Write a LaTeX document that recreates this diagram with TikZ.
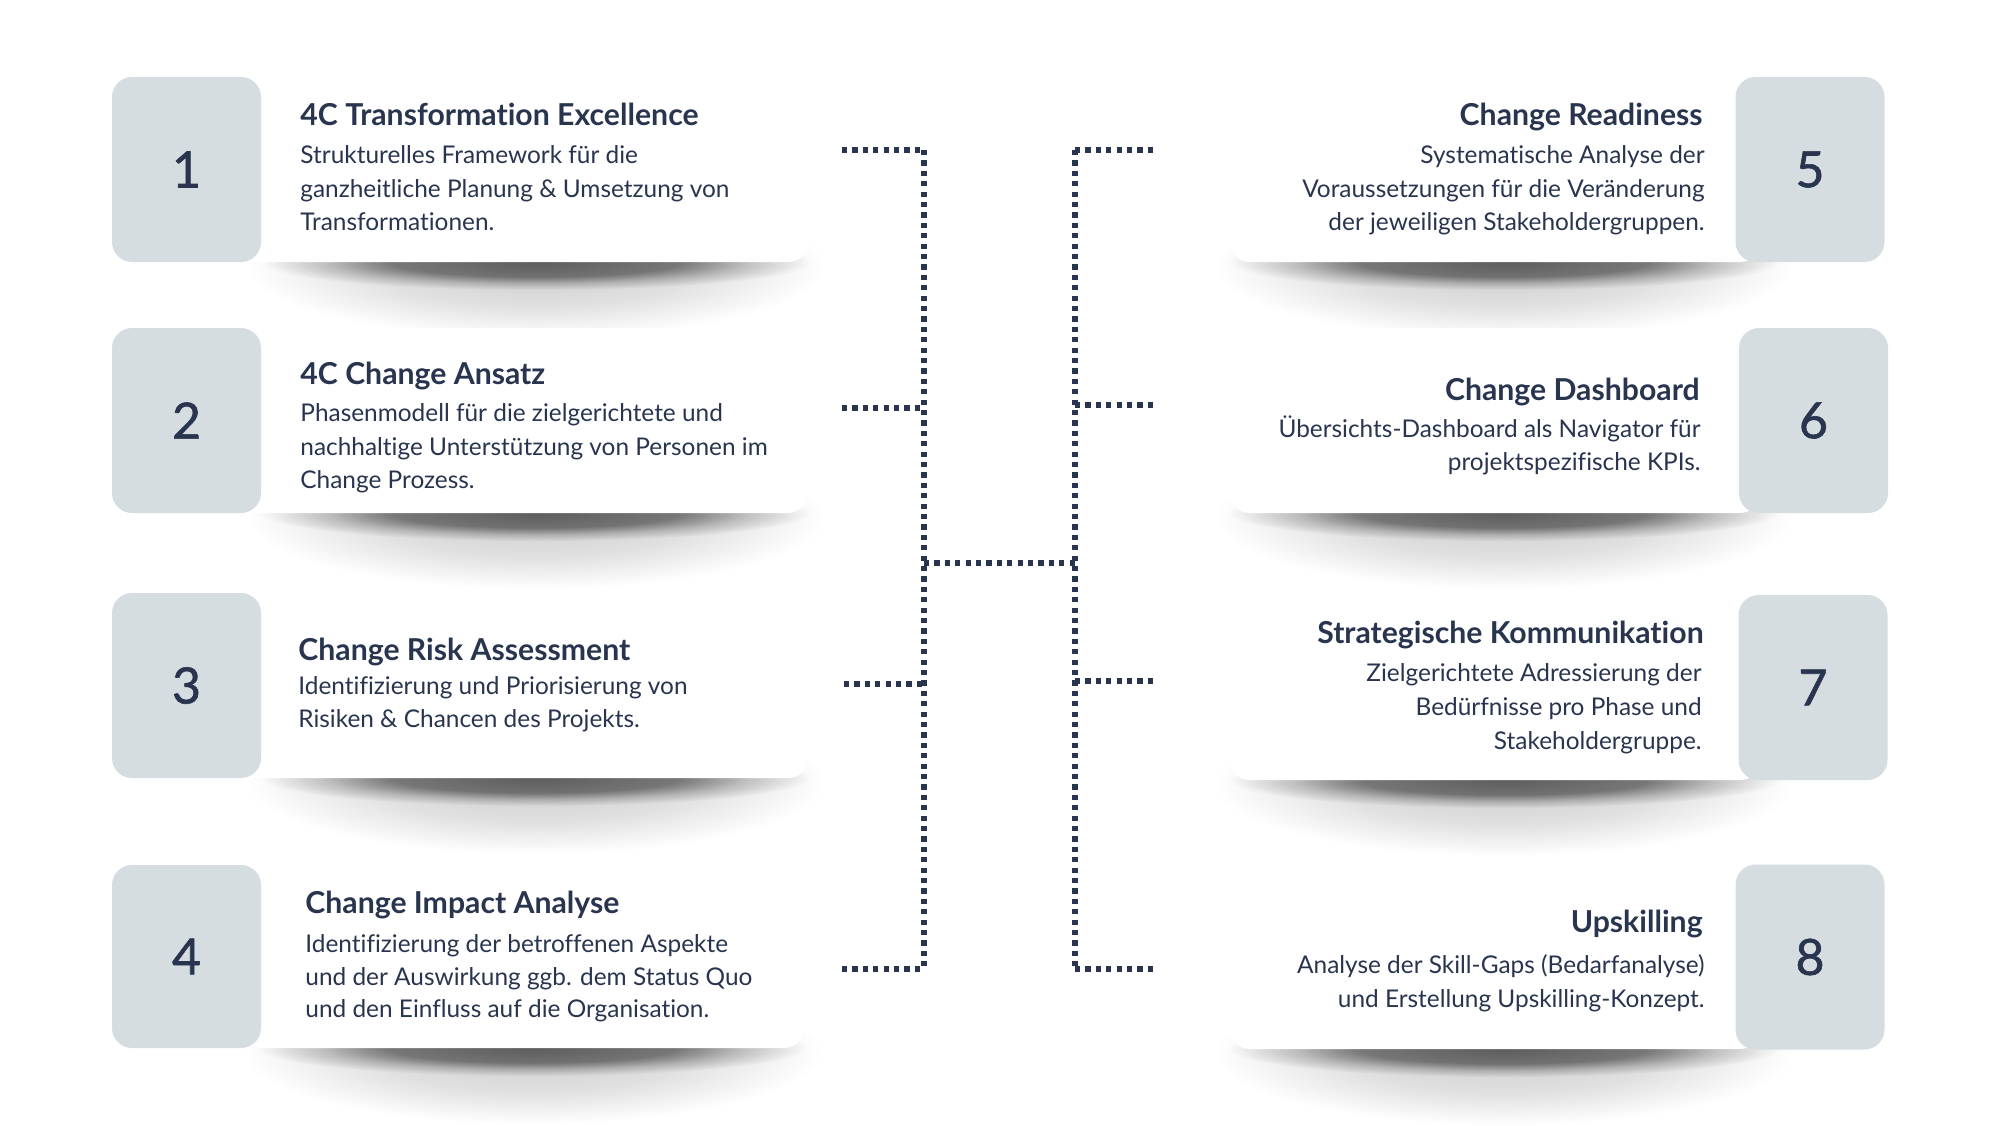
\documentclass[tikz,border=0pt]{standalone}
\usepackage{fontspec}
\setmainfont{Lato}[Ligatures=NoCommon]
\newfontfamily\numfont[FakeBold=1.2]{Lato}
\definecolor{navy}{HTML}{29354F}
\definecolor{boxgrey}{HTML}{D5DDE1}
\pgfdeclareradialshading{shadowdark}{\pgfpoint{0bp}{0bp}}{color(0bp)=(black!54); color(13bp)=(black!46); color(19bp)=(black!19); color(25bp)=(white); color(50bp)=(white)}
\pgfdeclareradialshading{shadowsoft}{\pgfpoint{0bp}{0bp}}{color(0bp)=(black!20); color(14bp)=(black!12); color(25bp)=(white); color(50bp)=(white)}
\tikzset{
  numbox/.style={fill=boxgrey, rounded corners=10pt, minimum width=74.5pt, minimum height=92.5pt, inner sep=0pt, font=\numfont\fontsize{25}{25}\selectfont, text=navy},
  ttl/.style={font=\bfseries\fontsize{15.1}{15.1}\selectfont, text=navy, inner sep=0pt},
  bodytxt/.style={font=\fontsize{12.2}{12.2}\selectfont, text=navy, inner sep=0pt},
  dotline/.style={draw=navy, line width=2.6pt, dash pattern=on 2.6pt off 2.6pt},
  cardbg/.style={fill=white, rounded corners=10pt},
  lt/.style={anchor=base west},
  rt/.style={anchor=base east}
}
\begin{document}
\begin{tikzpicture}[x=0.5pt, y=-0.5pt]
\useasboundingbox[fill=white] (0,0) rectangle (2000,1125);

% shadows
\begin{scope}[blend mode=multiply]
  \foreach \cx/\by in {536/262, 536/513, 536/778, 532/1048, 1504/262, 1504/513, 1504/780, 1504/1049}{
    \shade[shading=shadowsoft] (\cx,\by+4) ellipse (145pt and 36pt);
    \shade[shading=shadowdark] (\cx,\by) ellipse (138pt and 14pt);
  }
\end{scope}

% cards
\path[cardbg] (240,77) rectangle (808,262);
\path[cardbg] (240,328) rectangle (808,513);
\path[cardbg] (240,593) rectangle (808,778);
\path[cardbg] (240,865) rectangle (804,1048);
\path[cardbg] (1230,77) rectangle (1760,262);
\path[cardbg] (1230,328) rectangle (1760,513);
\path[cardbg] (1230,595) rectangle (1760,780);
\path[cardbg] (1230,865) rectangle (1760,1049);

% number boxes
\node[numbox] (n1) at (186.5,169.5) {1};
\node[numbox] (n2) at (186.5,420.5) {2};
\node[numbox] (n3) at (186.5,685.5) {3};
\node[numbox, minimum height=91.5pt] (n4) at (186.5,956.5) {4};
\node[numbox] (n5) at (1810,169.5) {5};
\node[numbox] (n6) at (1813.5,420.5) {6};
\node[numbox] (n7) at (1813,687.5) {7};
\node[numbox] (n8) at (1810,957) {8};

% left texts
\node[ttl, lt] (t1) at (300,125) {4C Transformation Excellence};
\node[bodytxt, lt] (d1a) at (300,163) {Strukturelles Framework für die};
\node[bodytxt, lt] (d1b) at (300,197) {ganzheitliche Planung \& Umsetzung von};
\node[bodytxt, lt] (d1c) at (300,230) {Transformationen.};

\node[ttl, lt] (t2) at (300,384) {4C Change Ansatz};
\node[bodytxt, lt] (d2a) at (300,421) {Phasenmodell für die zielgerichtete und};
\node[bodytxt, lt] (d2b) at (300,455) {nachhaltige Unterstützung von Personen im};
\node[bodytxt, lt] (d2c) at (300,488) {Change Prozess.};

\node[ttl, lt] (t3) at (298,660) {Change Risk Assessment};
\node[bodytxt, lt] (d3a) at (298,694) {Identifizierung und Priorisierung von};
\node[bodytxt, lt] (d3b) at (298,727) {Risiken \& Chancen des Projekts.};

\node[ttl, lt] (t4) at (305,913) {Change Impact Analyse};
\node[bodytxt, lt] (d4a) at (305,952) {Identifizierung der betroffenen Aspekte};
\node[bodytxt, lt] (d4b) at (305,985) {und der Auswirkung ggb. dem Status Quo};
\node[bodytxt, lt] (d4c) at (305,1017) {und den Einfluss auf die Organisation.};

% right texts
\node[ttl, rt] (t5) at (1703,125) {Change Readiness};
\node[bodytxt, rt] (d5a) at (1705,163) {Systematische Analyse der};
\node[bodytxt, rt] (d5b) at (1705,197) {Voraussetzungen für die Veränderung};
\node[bodytxt, rt] (d5c) at (1705,230) {der jeweiligen Stakeholdergruppen.};

\node[ttl, rt] (t6) at (1700,400) {Change Dashboard};
\node[bodytxt, rt] (d6a) at (1701,437) {Übersichts-Dashboard als Navigator für};
\node[bodytxt, rt] (d6b) at (1701,470) {projektspezifische KPIs.};

\node[ttl, rt] (t7) at (1704,643) {Strategische Kommunikation};
\node[bodytxt, rt] (d7a) at (1702,681) {Zielgerichtete Adressierung der};
\node[bodytxt, rt] (d7b) at (1702,715) {Bedürfnisse pro Phase und};
\node[bodytxt, rt] (d7c) at (1702,749) {Stakeholdergruppe.};

\node[ttl, rt] (t8) at (1703,932) {Upskilling};
\node[bodytxt, rt] (d8a) at (1705,973) {Analyse der Skill-Gaps (Bedarfanalyse)};
\node[bodytxt, rt] (d8b) at (1705,1007) {und Erstellung Upskilling-Konzept.};

% connector points
\coordinate (L1) at (842,150); \coordinate (J1) at (924,150);
\coordinate (L2) at (842,408); \coordinate (J2) at (924,408);
\coordinate (L3) at (844,684); \coordinate (J3) at (924,684);
\coordinate (L4) at (842,969); \coordinate (J4) at (924,969);
\coordinate (JM) at (924,563); \coordinate (KM) at (1075,563);
\coordinate (K1) at (1075,150); \coordinate (R1) at (1158,150);
\coordinate (K2) at (1075,405); \coordinate (R2) at (1157,405);
\coordinate (K3) at (1075,681); \coordinate (R3) at (1157,681);
\coordinate (K4) at (1075,969); \coordinate (R4) at (1157,969);

\draw[dotline] (L1) -- (J1);
\draw[dotline] (L2) -- (J2);
\draw[dotline] (L3) -- (J3);
\draw[dotline] (L4) -- (J4);
\draw[dotline] (J1) -- (J4);
\draw[dotline] (JM) -- (KM);
\draw[dotline] (K1) -- (K4);
\draw[dotline] (K1) -- (R1);
\draw[dotline] (K2) -- (R2);
\draw[dotline] (K3) -- (R3);
\draw[dotline] (K4) -- (R4);
\end{tikzpicture}
\end{document}
